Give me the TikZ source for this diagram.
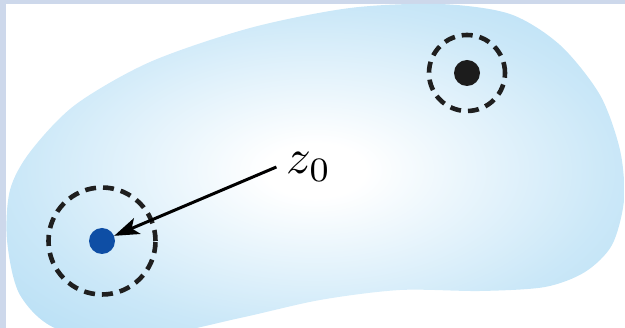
\documentclass[tikz,border=0pt]{standalone}
\usepackage{graphicx}
\usepackage{xcolor}
\usepackage{tikz}
\usetikzlibrary{arrows.meta,positioning}

\definecolor{regionblue}{RGB}{168,216,243}
\definecolor{framegray}{RGB}{205,216,235}
\definecolor{ptblue}{RGB}{14,78,165}
\definecolor{ptblack}{RGB}{28,28,28}

\pgfdeclareradialshading{regionshade}{\pgfpoint{0bp}{0bp}}{%
  color(0bp)=(white); color(4bp)=(white);
  color(24bp)=(regionblue!60!white); color(42bp)=(regionblue);
  color(80bp)=(regionblue)}

\begin{document}
\begin{tikzpicture}[
    x=1pt, y=-1pt,
    nbhd/.style={
      draw=black!88, circle, line width=4.6pt,
      dash pattern=on 11pt off 7pt, inner sep=0pt
    },
    pt/.style={circle, inner sep=0pt, minimum size=26pt},
    arr/.style={-{Stealth[length=25pt, width=17pt, inset=6pt]}, line width=3pt}
  ]
    \useasboundingbox (0,0) rectangle (625,328);
    \clip (0,0) rectangle (625,328);

    % frame strips
    \fill[framegray] (0,0) rectangle (6,328);
    \fill[framegray] (0,0) rectangle (625,4);

    % Region
    \shade[shading=regionshade] plot[smooth cycle, tension=0.5] coordinates {
      (7,240) (10,190) (30,152) (75,105) (150,62) (250,28) (350,8)
      (440,4) (510,14) (560,45) (600,95) (620,150) (624,200) (612,245)
      (585,272) (545,287) (480,291) (400,290) (320,300) (240,318)
      (150,336) (60,330) (20,295)};

    % Points and neighbourhoods
    \node[pt, fill=ptblue] (z0pt) at (102,241) {};
    \node[nbhd, minimum size=107pt] (z0ring) at (z0pt) {};
    \node[pt, fill=ptblack] (wpt) at (467,73) {};
    \node[nbhd, minimum size=76pt] (wring) at (wpt) {};

    % Label
    \node[inner xsep=10pt, inner ysep=2pt]
      (z0lbl) at (309,167) {\scalebox{4.9}{$z_0$}};
    \draw[arr] (z0lbl.west) -- (z0pt);
  \end{tikzpicture}
\end{document}
